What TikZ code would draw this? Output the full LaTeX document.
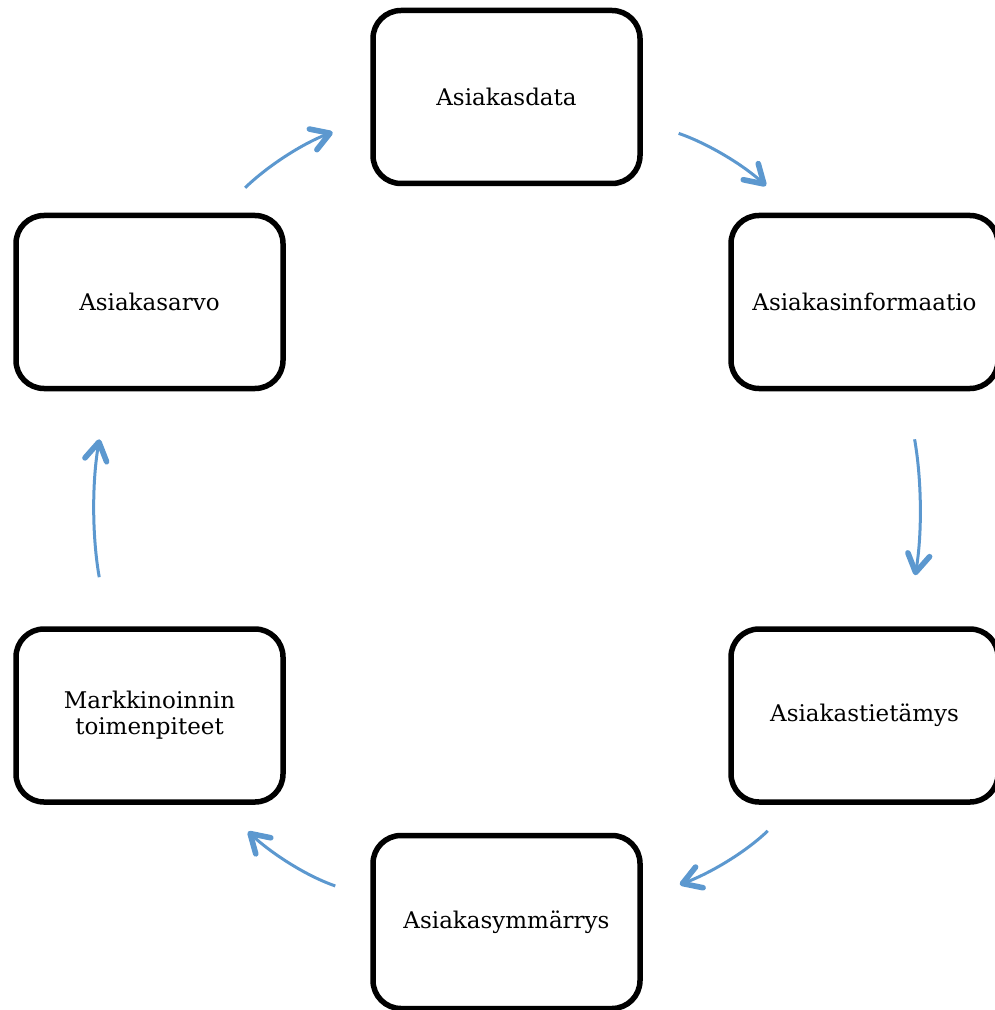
\documentclass[tikz,border=0pt]{standalone}
\usepackage{fontspec}
\setmainfont{DejaVu Serif}
\usepackage{tikz}
\usetikzlibrary{arrows.meta,positioning}
\definecolor{cycleblue}{RGB}{92,152,207}
\tikzset{
    stage element/.style={
        draw,line width=2.75pt,rounded corners=14pt,
        fill=white,
        minimum width=133.5pt,minimum height=86.5pt,
        align=center,
        font=\fontsize{11.5}{13}\selectfont
    },
    cycle arrow/.style={
        cycleblue,line width=1.5pt,->
    },
    >={Straight Barb[length=9pt,width=11pt,line width=2.8pt,round]}
}

\begin{document}
\begin{tikzpicture}[x=0.5pt,y=-0.5pt]
\useasboundingbox (0,0) rectangle (994,1010);
\foreach \name/\x/\y/\txt in {data/506.5/97/Asiakasdata,info/864.5/302/Asiakasinformaatio,tieto/864.5/715.5/Asiakastietämys,ymm/506.5/922/Asiakasymmärrys,toim/149.5/715.5/{Markkinoinnin\\toimenpiteet},arvo/149.5/302/Asiakasarvo}
    \node[stage element] (\name) at (\x,\y) {\txt};
\draw[cycle arrow,shorten <=18pt,shorten >=20pt] (arvo.52) to[out=44,in=200] (data.189);
\draw[cycle arrow,shorten <=19pt,shorten >=19.7pt] (data.350) to[out=-19,in=137] (info.128);
\draw[cycle arrow,shorten <=24.4pt,shorten >=25.9pt] (info.295) to[out=-80,in=80] (tieto.65);
\draw[cycle arrow,shorten <=18.8pt,shorten >=19.7pt] (tieto.232) to[out=224,in=20] (ymm.10);
\draw[cycle arrow,shorten <=18.5pt,shorten >=19.7pt] (ymm.170) to[out=161,in=-43] (toim.308);
\draw[cycle arrow,shorten <=24.9pt,shorten >=24.4pt] (toim.115) to[out=100,in=260] (arvo.245);
\end{tikzpicture}
\end{document}
